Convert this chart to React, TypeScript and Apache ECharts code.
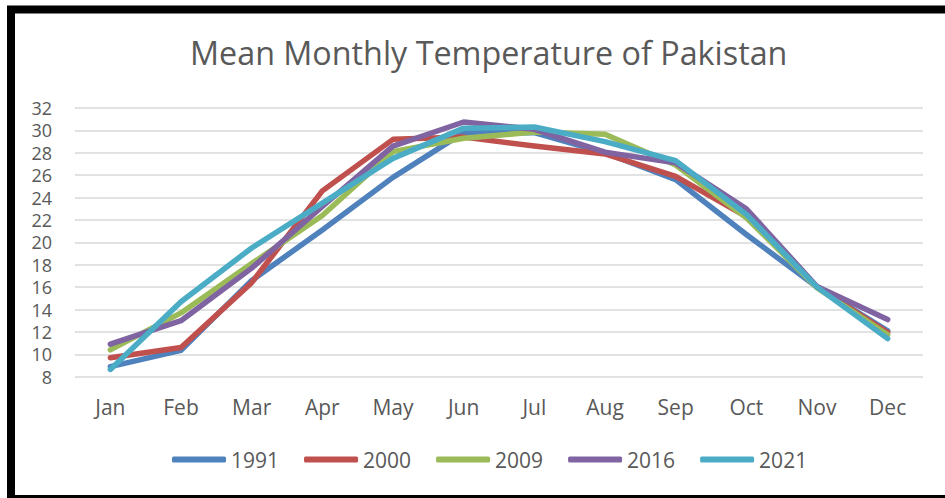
import React, { useEffect, useRef } from "react";
import * as echarts from "echarts";

const months = ["Jan", "Feb", "Mar", "Apr", "May", "Jun", "Jul", "Aug", "Sep", "Oct", "Nov", "Dec"];
const yTicks = { min: 8, max: 32, interval: 2 };
const t1991 = [8.9, 10.35, 16.6, 21.1, 25.8, 29.8, 29.8, 28.0, 25.6, 20.7, 16.0, 12.1];
const t2000 = [9.7, 10.6, 16.4, 24.6, 29.2, 29.4, 28.6, 27.9, 25.9, 22.3, 16.0, 11.95];
const t2009 = [10.4, 13.7, 18.1, 22.4, 28.1, 29.3, 29.85, 29.65, 26.9, 22.2, 15.95, 11.75];
const t2016 = [10.9, 13.0, 17.7, 23.2, 28.6, 30.75, 30.1, 28.05, 27.1, 23.0, 16.05, 13.1];
const t2021 = [8.65, 14.7, 19.5, 23.5, 27.5, 30.2, 30.3, 29.0, 27.3, 22.5, 16.0, 11.4];
const seriesNames = ["1991", "2000", "2009", "2016", "2021"];
const seriesData = [t1991, t2000, t2009, t2016, t2021];
const colors = ["#4F81BD", "#C0504D", "#9BBB59", "#8064A2", "#4BACC6"];
const title = "Mean Monthly Temperature of Pakistan";

const FONT = "'Open Sans', 'Noto Sans', sans-serif";

export default function App() {
  const ref = useRef<HTMLDivElement>(null);
  useEffect(() => {
    if (!ref.current) return;
    const chart = echarts.init(ref.current, undefined, { renderer: "svg" });
    chart.setOption({
      animation: false,
      backgroundColor: "#ffffff",
      color: colors,
      title: {
        text: title,
        left: 185,
        top: 31,
        textStyle: { fontFamily: FONT, fontSize: 32.3, fontWeight: "normal", color: "#595959" },
      },
      legend: {
        bottom: 23,
        left: 167,
        itemWidth: 54,
        itemHeight: 6,
        itemGap: 25,
        icon: "roundRect",
        textStyle: { fontFamily: FONT, fontSize: 21, color: "#595959" },
        data: seriesNames,
      },
      grid: { left: 75, right: 22, top: 108, bottom: 121.3, containLabel: false },
      xAxis: {
        type: "category",
        data: months,
        boundaryGap: true,
        axisLine: { show: false },
        axisTick: { show: false },
        axisLabel: { fontFamily: FONT, fontSize: 21, color: "#595959", margin: 20 },
      },
      yAxis: {
        type: "value",
        min: yTicks.min,
        max: yTicks.max,
        interval: yTicks.interval,
        axisLine: { show: false },
        axisTick: { show: false },
        splitLine: { lineStyle: { color: "#D9D9D9", width: 1.5 } },
        axisLabel: { fontFamily: FONT, fontSize: 18, lineHeight: 18, color: "#595959", margin: 23 },
      },
      series: seriesNames.map((name, i) => ({
        name,
        type: "line",
        data: seriesData[i],
        symbol: "none",
        lineStyle: { width: 5.5, color: colors[i], cap: "round", join: "round" },
        itemStyle: { color: colors[i] },
      })),
      graphic: [
        {
          type: "rect",
          shape: { x: 11, y: 9.5, width: 960, height: 489.5 },
          style: { fill: "none", stroke: "#000000", lineWidth: 8 },
          z: 100,
        },
      ],
    });
    return () => chart.dispose();
  }, []);
  return (
    <div style={{ position: "fixed", left: 0, top: 0, width: 945, height: 498, background: "#fff" }}>
      <div ref={ref} style={{ width: 945, height: 498 }} />
    </div>
  );
}
